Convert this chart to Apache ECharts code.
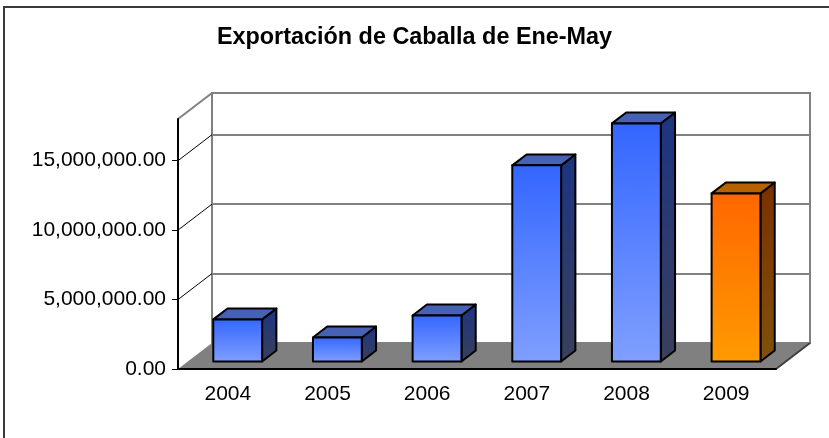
<!DOCTYPE html>
<html>
<head>
    <meta charset="utf-8">
    <title>Exportación de Caballa</title>
    <script type="text/javascript" src="https://cdn.jsdelivr.net/npm/echarts@6/dist/echarts.min.js"></script>
    <style>
        html, body { margin: 0; padding: 0; background: #fff; }
    </style>
</head>
<body>
    <div id="main" style="width: 829px;height:438px;"></div>

    <script type="text/javascript">
        // datos
        var years = ['2004', '2005', '2006', '2007', '2008', '2009'];
        var exports = [3030000, 1730000, 3310000, 14120000, 17140000, 12100000];
        var yTicks = [0, 5000000, 10000000, 15000000];
        var yMax = 18000000;
        var highlightYear = '2009';

        // profundidad 3D (px)
        var DX = 34, DY = 26;
        var F1 = 0.29, F2 = 0.71;
        var BAR_RATIO = 0.49;

        var fontName = '"Liberation Sans", Arial, sans-serif';

        function money(v) {
            return Number(v).toFixed(2).replace(/\B(?=(\d{3})+(?!\d))/g, ',');
        }

        var blue = {
            front: ['#3366ff', '#809fff'],
            side: ['#1c3482', '#3a405b'],
            top: '#4762b4'
        };
        var orange = {
            front: ['#ff6600', '#ff9b00'],
            side: ['#7a3000', '#80520a'],
            top: '#b76200'
        };

        function grad(c) {
            return new echarts.graphic.LinearGradient(0, 0, 0, 1, [
                { offset: 0, color: c[0] }, { offset: 1, color: c[1] }
            ]);
        }

        var myChart = echarts.init(document.getElementById('main'));

        myChart.setOption({
            animation: false,
            title: {
                text: 'Exportación de Caballa de Ene-May',
                left: 'center',
                top: 21,
                textStyle: { fontFamily: fontName, fontSize: 23.4, fontWeight: 'bold', color: '#000' }
            },
            graphic: [{
                type: 'rect',
                shape: { x: 4, y: 7, width: 900, height: 500 },
                style: { fill: null, stroke: '#3a3a3a', lineWidth: 2 },
                z: 0
            }],
            grid: [
                { left: 178, right: 53, top: 119, bottom: 69 },
                { left: 212, right: 19, top: 93, bottom: 95, show: true,
                  backgroundColor: '#fff', borderColor: '#808080', borderWidth: 2 }
            ],
            xAxis: [{
                type: 'category',
                gridIndex: 0,
                data: years,
                z: 10,
                axisLine: { lineStyle: { color: '#000', width: 2 } },
                axisTick: { length: 6, lineStyle: { color: '#000', width: 1 } },
                axisLabel: { fontFamily: fontName, fontSize: 21, color: '#000', margin: 15 }
            }, {
                type: 'category',
                gridIndex: 1,
                data: years,
                show: false
            }],
            yAxis: [{
                type: 'value',
                gridIndex: 0,
                min: 0,
                max: yMax,
                interval: 5000000,
                z: 10,
                axisLine: { show: true, lineStyle: { color: '#000', width: 2 } },
                axisTick: { show: true, length: 6, customValues: yTicks, lineStyle: { color: '#000', width: 1 } },
                splitLine: { show: false },
                axisLabel: {
                    customValues: yTicks,
                    fontFamily: fontName, fontSize: 21, color: '#000', margin: 12,
                    formatter: money
                }
            }, {
                type: 'value',
                gridIndex: 1,
                min: 0,
                max: yMax,
                interval: 5000000,
                axisLine: { show: false },
                axisTick: { show: false },
                axisLabel: { show: false },
                splitLine: { show: true, lineStyle: { color: '#808080', width: 2 } }
            }],
            series: [{
                // piso
                type: 'custom',
                xAxisIndex: 0,
                yAxisIndex: 0,
                z: 2,
                silent: true,
                data: [[0, 0]],
                renderItem: function (params, api) {
                    var cs = params.coordSys;
                    var y0 = api.coord([0, 0])[1];
                    var xl = cs.x, xr = cs.x + cs.width;
                    return {
                        type: 'group',
                        children: [{
                            type: 'polygon',
                            shape: { points: [[xl, y0], [xr, y0], [xr + DX, y0 - DY], [xl + DX, y0 - DY]] },
                            style: { fill: '#808080', stroke: null }
                        }, {
                            type: 'line',
                            shape: { x1: xr, y1: y0, x2: xr + DX, y2: y0 - DY },
                            style: { stroke: '#404040', lineWidth: 2 }
                        }]
                    };
                }
            }, {
                // pared izquierda
                type: 'custom',
                xAxisIndex: 0,
                yAxisIndex: 0,
                z: 3,
                silent: true,
                data: yTicks.slice(1).concat([yMax]).map(function (v) { return [0, v]; }),
                renderItem: function (params, api) {
                    var cs = params.coordSys;
                    var v = api.value(1);
                    var y = api.coord([0, v])[1];
                    return {
                        type: 'line',
                        shape: { x1: cs.x, y1: y, x2: cs.x + DX, y2: y - DY },
                        style: { stroke: v === yMax ? '#808080' : '#000', lineWidth: v === yMax ? 2 : 1 }
                    };
                }
            }, {
                // barras
                type: 'custom',
                name: 'Exportación',
                xAxisIndex: 0,
                yAxisIndex: 0,
                z: 4,
                data: exports.map(function (v, i) { return [i, v]; }),
                renderItem: function (params, api) {
                    var i = api.value(0), v = api.value(1);
                    var base = api.coord([i, 0]);
                    var top = api.coord([i, v]);
                    var band = api.size([1, 0])[0];
                    var w = band * BAR_RATIO;
                    var ox = DX * F1, oy = -DY * F1;
                    var dx = DX * (F2 - F1), dy = -DY * (F2 - F1);
                    var x0 = base[0] - w / 2 + ox, x1 = x0 + w;
                    var yb = base[1] + oy, yt = top[1] + oy;
                    var pal = years[i] === highlightYear ? orange : blue;
                    var edge = { stroke: '#000', lineWidth: 2, lineJoin: 'round' };
                    return {
                        type: 'group',
                        children: [{
                            type: 'polygon',
                            shape: { points: [[x1, yt], [x1 + dx, yt + dy], [x1 + dx, yb + dy], [x1, yb]] },
                            style: Object.assign({ fill: grad(pal.side) }, edge)
                        }, {
                            type: 'polygon',
                            shape: { points: [[x0, yt], [x0 + dx, yt + dy], [x1 + dx, yt + dy], [x1, yt]] },
                            style: Object.assign({ fill: pal.top }, edge)
                        }, {
                            type: 'rect',
                            shape: { x: x0, y: yt, width: w, height: yb - yt },
                            style: Object.assign({ fill: grad(pal.front) }, edge)
                        }]
                    };
                }
            }]
        });
    </script>
</body>
</html>
